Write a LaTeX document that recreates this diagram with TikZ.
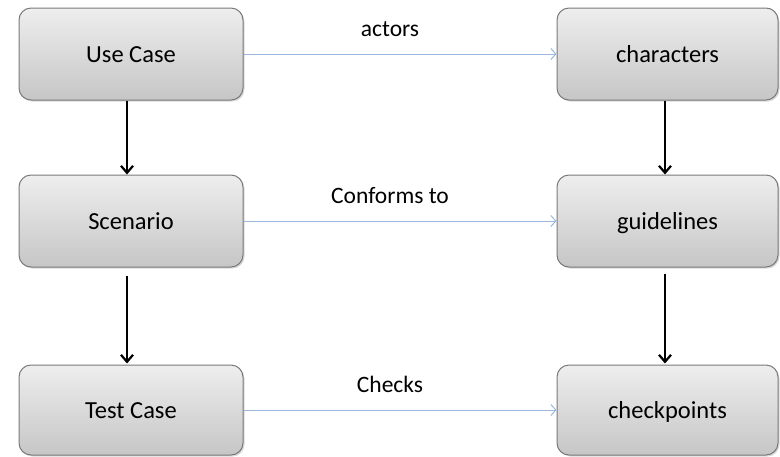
\documentclass[tikz,border=0pt]{standalone}
\usepackage{fontspec}
\setmainfont{Carlito}
\usetikzlibrary{arrows.meta,shadows}
\definecolor{boxborder}{HTML}{7A7A7A}
\definecolor{boxtop}{HTML}{EEEEEE}
\definecolor{boxbot}{HTML}{C6C6C6}
\definecolor{bluelink}{HTML}{9BB8E0}
\begin{document}
\begin{tikzpicture}[x=1pt,y=-1pt,
  box/.style={draw=boxborder, line width=1pt, rounded corners=12pt,
    top color=boxtop, bottom color=boxbot, minimum height=92pt,
    font=\fontsize{24.5}{28}\selectfont, text=black,
    text height=18pt, text depth=2pt,
    drop shadow={shadow xshift=1.5pt, shadow yshift=-1.5pt, opacity=0.3}},
  leftbox/.style={box, minimum width=224pt},
  rightbox/.style={box, minimum width=221pt},
  down/.style={draw=black, line width=2.2pt, -{Straight Barb[length=7pt,width=12pt]}},
  link/.style={draw=bluelink, line width=1pt, -{Straight Barb[length=5pt,width=11pt]}},
  lbl/.style={font=\fontsize{23.5}{28}\selectfont, text=black, midway, xshift=-10pt, yshift=26pt,
    text height=18pt, text depth=2pt}
]
\useasboundingbox (0,0) rectangle (780,456);
\node[leftbox] (uc) at (131,54) {Use Case};
\node[rightbox] (ch) at (667.5,54) {characters};
\node[leftbox] (sc) at (131,221) {Scenario};
\node[rightbox] (gl) at (667.5,221) {guidelines};
\node[leftbox, minimum height=90pt] (tc) at (131,410) {Test Case};
\node[rightbox, minimum height=90pt] (cp) at (667.5,410) {checkpoints};

\draw[down] ([xshift=-4pt]uc.south) -- ([xshift=-4pt]sc.north);
\draw[down, shorten <=8pt, shorten >=1pt] ([xshift=-4pt]sc.south) -- ([xshift=-4pt]tc.north);
\draw[down] ([xshift=-2.5pt]ch.south) -- ([xshift=-2.5pt]gl.north);
\draw[down, shorten <=6pt, shorten >=1pt] ([xshift=-2.5pt]gl.south) -- ([xshift=-2.5pt]cp.north);

\draw[link] (uc.east) -- node[lbl] {actors} (ch.west);
\draw[link] (sc.east) -- node[lbl] {Conforms to} (gl.west);
\draw[link] (tc.east) -- node[lbl] {Checks} (cp.west);
\end{tikzpicture}
\end{document}
